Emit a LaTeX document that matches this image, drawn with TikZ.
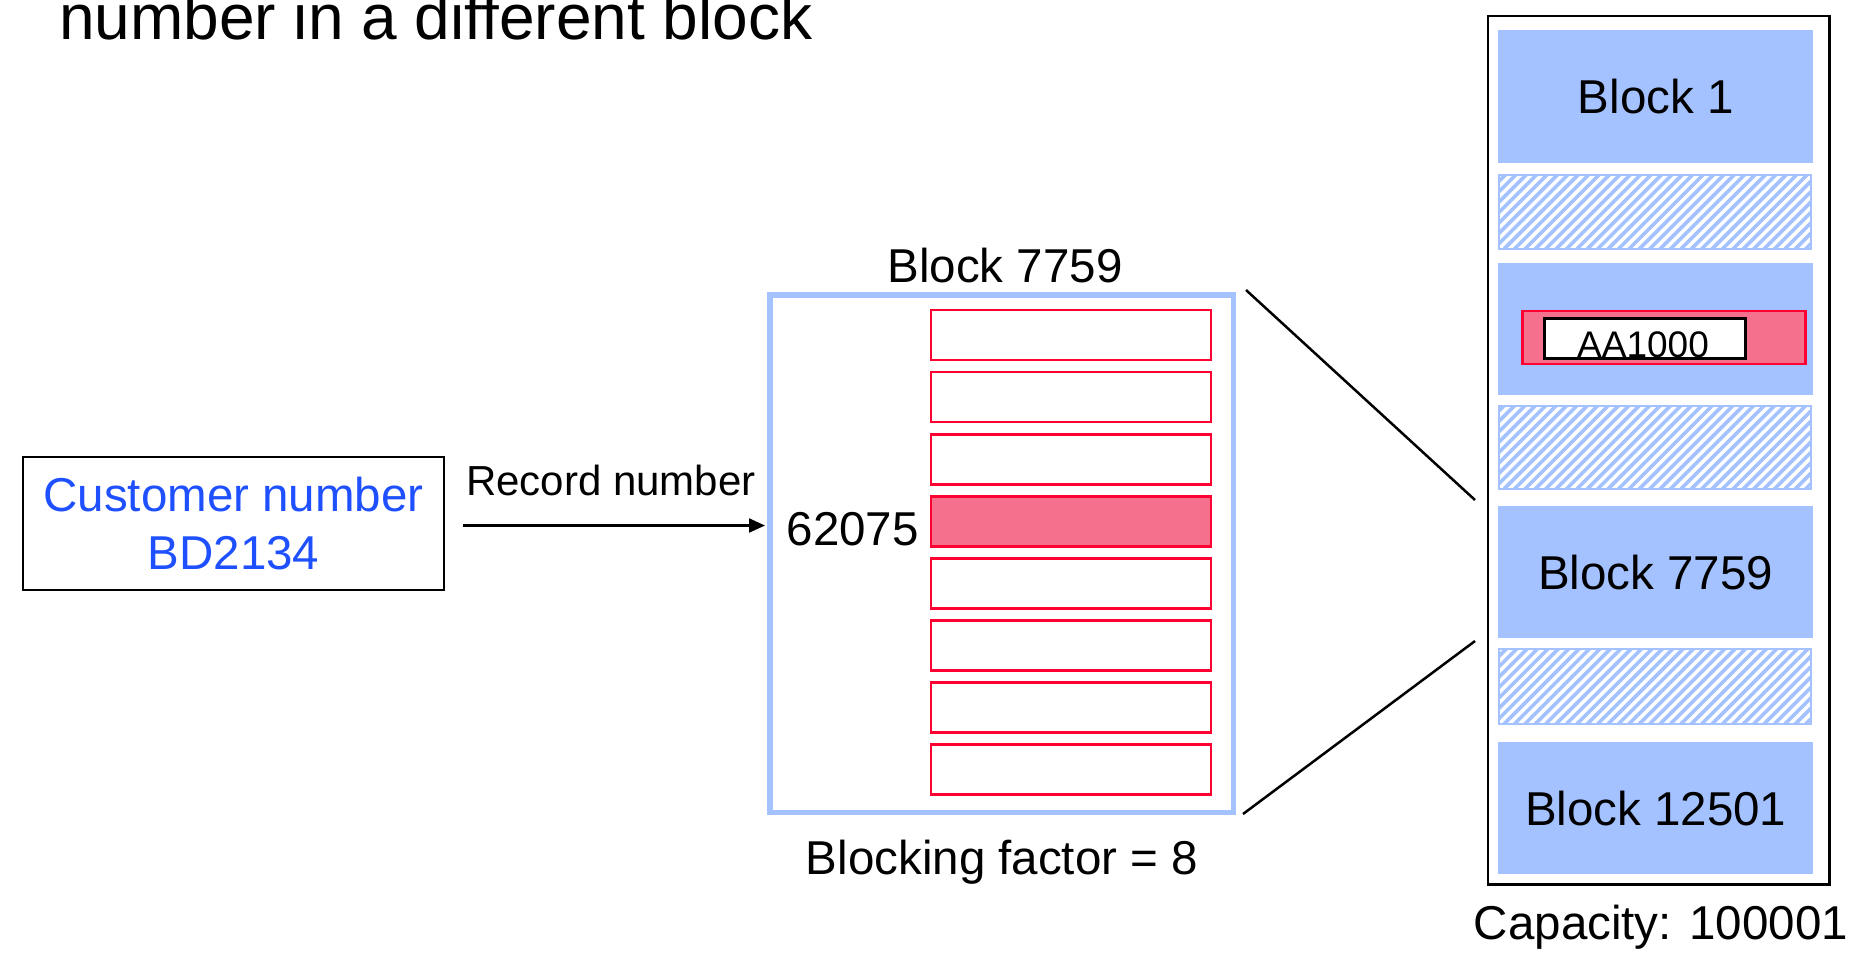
\documentclass[tikz,border=0pt]{standalone}
\usepackage{fontspec}
\setmainfont{Liberation Sans}
\usetikzlibrary{arrows.meta,calc}
\definecolor{lblue}{RGB}{164,194,255}
\definecolor{recred}{RGB}{255,0,51}
\definecolor{pinkfill}{RGB}{244,112,140}
\definecolor{custblue}{RGB}{30,80,255}
\begin{document}
\begin{tikzpicture}[x=1pt,y=-1pt,
  big/.style={font=\fontsize{47.5}{58}\selectfont, inner sep=0},
  rec/.style={draw=recred, line width=2.8pt, minimum width=280pt, minimum height=50pt, inner sep=0, anchor=north west},
  blkfill/.style={fill=lblue, inner sep=0, anchor=north west, minimum width=315pt, minimum height=133pt, font=\fontsize{47.5}{58}\selectfont},
  hatchline/.style={lblue, line width=3.6pt},
  hatchborder/.style={draw=lblue, line width=2pt},
  conn/.style={black, line width=2.5pt}
]
\useasboundingbox (0,0) rectangle (1859,954);
\fill[white] (0,0) rectangle (1859,954);

% title fragment
\node[font=\fontsize{64}{70}\selectfont, inner sep=0, anchor=base west] (title) at (59,39) {number in a different block};

% customer box
\node[draw, line width=2.7pt, minimum width=421pt, minimum height=133pt, inner sep=0, align=center,
      font=\fontsize{47.5}{58}\selectfont, text=custblue] (cust) at (233.5,523.5) {Customer number\\BD2134};

% block 7759 detail box
\node[draw=lblue, line width=5.5pt, minimum width=463.5pt, minimum height=517.5pt, inner sep=0, anchor=north west] (blk) at (767,292) {};
\node[big, anchor=base] (blktitle) at (1005,282) {Block 7759};
\node[big, anchor=base] (bf) at (1002,874) {Blocking factor = 8};

% records
\foreach \i in {0,...,7} {
  \node[rec] (r\i) at (929.5,{308.5+62.1*\i}) {};
}
\fill[pinkfill] (r3.north west) rectangle (r3.south east);
\node[rec] at (r3.north west) {};
\node[big, anchor=base east] (num) at (919,545) {62075};

% arrow
\coordinate (astart) at ($(cust.east)+(18,2)$);
\draw[line width=2.2pt, shorten >=2pt, -{Triangle[length=16pt,width=14pt]}] (astart) -- (blk.west |- astart);
\node[font=\fontsize{42}{50}\selectfont, inner sep=0, anchor=base] (recnum) at (611,495) {Record number};

% right container
\node[draw, line width=2.7pt, minimum width=341.5pt, minimum height=868.5pt, inner sep=0, anchor=north west] (cont) at (1486.5,14.5) {};
\node[big, anchor=base] (cap) at (1661,939) {Capacity: 100001};

\node[blkfill] (b1) at (1498,30) {Block 1};
\node[blkfill, minimum height=132pt] (baa) at (1498,263) {};
\node[blkfill, minimum height=132pt] (b7759) at (1498,506) {Block 7759};
\node[blkfill, minimum height=132pt] (b12501) at (1498,742) {Block 12501};

% hatched areas
\foreach \n/\ya/\yb in {h1/175/249, h2/406/489, h3/649/724} {
  \fill[white] (1499,\ya) rectangle (1811,\yb);
  \begin{scope}
    \clip (1499,\ya) rectangle (1811,\yb);
    \foreach \k in {0,...,45} {
      \draw[hatchline] ({1400+10.4*\k},\yb) -- ++(100,-100);
    }
  \end{scope}
  \draw[hatchborder] (1499,\ya) rectangle (1811,\yb);
}

% record inside block
\node[draw=recred, line width=2.5pt, fill=pinkfill, minimum width=283pt, minimum height=53pt, inner sep=0, anchor=north west] (rrec) at (1521,309.5) {};
\node[draw, line width=2.5pt, fill=white, minimum width=201pt, minimum height=40pt, inner sep=0, anchor=north west] (aabox) at (1543,317) {};
\node[font=\fontsize{37}{44}\selectfont, inner sep=0, anchor=base] (aa) at (1643,357) {AA1000};

% zoom connectors
\coordinate (c1a) at (1246,290);
\coordinate (c1b) at (1475,500);
\coordinate (c2a) at (1243,814);
\coordinate (c2b) at (1475,641);
\draw[conn] (c1a) -- (c1b);
\draw[conn] (c2a) -- (c2b);
\end{tikzpicture}
\end{document}
